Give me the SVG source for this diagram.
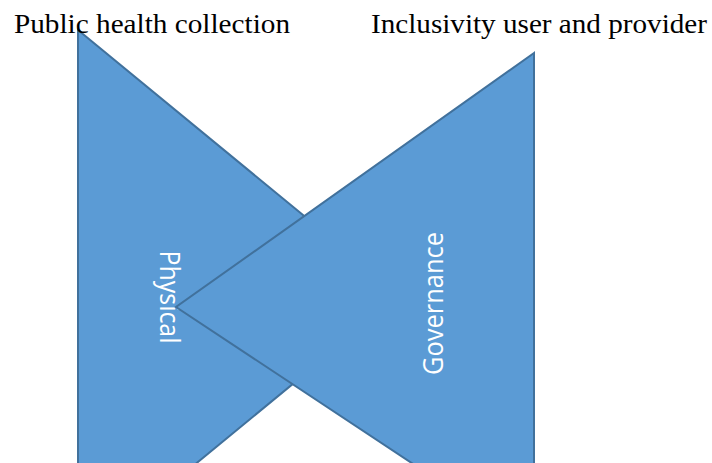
<svg xmlns="http://www.w3.org/2000/svg" width="712" height="463" viewBox="0 0 712 463">
<style>
.shape{fill:#5B9BD5;stroke:#41719C;stroke-width:2;stroke-linejoin:miter}
.lbl{font-family:"Open Sans","Liberation Sans",sans-serif;font-size:27px;fill:#FFFFFF;text-anchor:middle}
.ttl{font-family:"Liberation Serif","Times New Roman",serif;font-size:28px;fill:#000000}
</style>
<rect x="0" y="0" width="712" height="463" fill="#FFFFFF"/>
<g id="node-physical">
<polygon class="shape" points="78,30 400.7,295.3 78,560.6"/>
<text class="lbl" transform="translate(160,297) rotate(90)" x="0" y="0" textLength="93" lengthAdjust="spacingAndGlyphs">Physical</text>
</g>
<g id="node-governance">
<polygon class="shape" points="534,53 176,307 534,544"/>
<text class="lbl" transform="translate(443,303.5) rotate(-90)" x="0" y="0" textLength="143" lengthAdjust="spacingAndGlyphs">Governance</text>
</g>
<g id="connectors"></g>
<g id="labels">
<text class="ttl" x="14" y="33" textLength="276" lengthAdjust="spacingAndGlyphs">Public health collection</text>
<text class="ttl" x="371" y="33" textLength="336" lengthAdjust="spacingAndGlyphs">Inclusivity user and provider</text>
</g>
</svg>
